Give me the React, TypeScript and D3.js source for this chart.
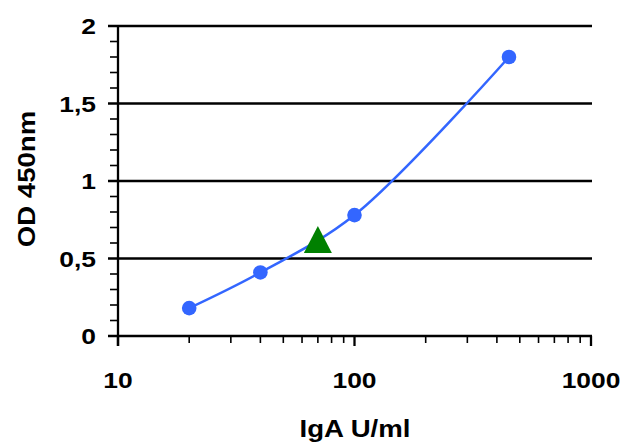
import React from "react";
import * as d3 from "d3";

const concentrations = [20, 40, 100, 450];
const odValues = [0.18, 0.41, 0.78, 1.8];
const sampleX = [70];
const sampleY = [0.62];
const yMajorTicks = [0, 0.5, 1, 1.5, 2];
const yTickLabels = ["0", "0,5", "1", "1,5", "2"];
const xMajorTicks = [10, 100, 1000];
const xTickLabels = ["10", "100", "1000"];

const W = 625;
const H = 446;
const left = 118;
const right = 591;
const top = 26;
const bottom = 336;

export default function App() {
  const x = d3.scaleLog().domain([10, 1000]).range([left, right]);
  const y = d3.scaleLinear().domain([0, 2]).range([bottom, top]);
  const yMinor = d3.range(0, 2.0001, 0.1).filter((v) => Math.abs(v * 2 - Math.round(v * 2)) > 1e-6);
  const xMinor = [20, 30, 40, 50, 60, 70, 80, 90, 200, 300, 400, 500, 600, 700, 800, 900];
  const pts: [number, number][] = concentrations.map((c, i) => [x(c), y(odValues[i])]);
  const line = d3.line<[number, number]>().curve(d3.curveCatmullRom.alpha(0.5))(pts) || "";
  const font = "'Liberation Sans', Arial, sans-serif";
  const blue = "#3366ff";
  const sx = 1.2;
  return (
    <svg width={W} height={H} style={{ position: "absolute", left: 0, top: 0, background: "#fff" }}>
      {yMajorTicks.slice(1).map((v) => (
        <line key={"g" + v} x1={left - 10} x2={right + 1} y1={y(v)} y2={y(v)} stroke="#000" strokeWidth={2.3} />
      ))}
      {yMinor.map((v) => (
        <line key={"ym" + v} x1={left - 8} x2={left} y1={y(v)} y2={y(v)} stroke="#000" strokeWidth={1.6} />
      ))}
      {xMinor.map((v) => (
        <line key={"xm" + v} x1={x(v)} x2={x(v)} y1={bottom} y2={bottom + 7} stroke="#000" strokeWidth={1.6} />
      ))}
      {xMajorTicks.map((v) => (
        <line key={"xM" + v} x1={x(v)} x2={x(v)} y1={bottom} y2={bottom + 10} stroke="#000" strokeWidth={2.3} />
      ))}
      <line x1={left} x2={left} y1={top - 1} y2={bottom + 10} stroke="#000" strokeWidth={2.3} />
      <line x1={left - 10} x2={right + 1} y1={bottom} y2={bottom} stroke="#000" strokeWidth={2.3} />
      {yMajorTicks.map((v, i) => (
        <text
          key={"yl" + v}
          transform={`translate(96, ${y(v) + 8}) scale(${sx}, 1)`}
          textAnchor="end"
          fontFamily={font}
          fontWeight="bold"
          fontSize={22}
        >
          {yTickLabels[i]}
        </text>
      ))}
      {xMajorTicks.map((v, i) => (
        <text
          key={"xl" + v}
          transform={`translate(${x(v)}, 388) scale(${sx}, 1)`}
          textAnchor="middle"
          fontFamily={font}
          fontWeight="bold"
          fontSize={22}
        >
          {xTickLabels[i]}
        </text>
      ))}
      <text
        transform={`translate(355, 437) scale(${sx}, 1)`}
        textAnchor="middle"
        fontFamily={font}
        fontWeight="bold"
        fontSize={23}
      >
        IgA U/ml
      </text>
      <text
        transform={`translate(35, 179) rotate(-90) scale(${sx}, 1)`}
        textAnchor="middle"
        fontFamily={font}
        fontWeight="bold"
        fontSize={23}
      >
        OD 450nm
      </text>
      <path d={line} fill="none" stroke={blue} strokeWidth={2.5} />
      {pts.map((p, i) => (
        <circle key={"p" + i} cx={p[0]} cy={p[1]} r={7.3} fill={blue} />
      ))}
      {sampleX.map((v, i) => {
        const cx = x(v);
        const cy = y(sampleY[i]);
        const d = `M${cx},${cy - 14}L${cx + 14},${cy + 13}L${cx - 14},${cy + 13}Z`;
        return <path key={"t" + i} d={d} fill="#008000" />;
      })}
    </svg>
  );
}
